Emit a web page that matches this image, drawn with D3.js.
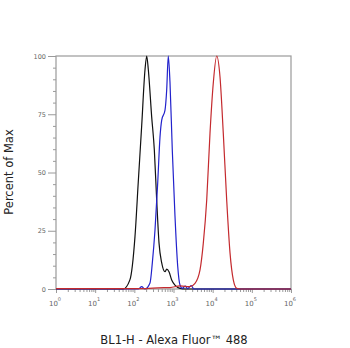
<!DOCTYPE html>
<html><head><meta charset="utf-8">
<script src="https://cdn.jsdelivr.net/npm/d3@7"></script>
<style>body{margin:0;background:#fff}svg{display:block}</style>
</head><body>
<script>
// Data (fluorescence intensity, percent of max)
const blackX = [1, 52, 77, 104, 126, 154, 187, 207, 228, 277, 324, 372, 427, 500, 607, 670, 767, 899, 1091, 1466, 2000, 1e6];
const blackY = [0, 0, 3.9, 22.6, 45.9, 70.0, 94.0, 100, 94.0, 74.0, 59.7, 38.2, 19.7, 11.2, 7.4, 8.5, 7.4, 3.9, 1.7, 0.3, 0, 0];
const blueX = [1, 126, 154, 186, 251, 288, 337, 395, 452, 500, 607, 670, 736, 813, 931, 1091, 1279, 1466, 1660, 1995, 2290, 2818, 3311, 1e6];
const blueY = [0, 0, 1.0, 0, 2.6, 11.2, 25.3, 45.5, 65.2, 72.5, 76.8, 85.4, 100, 88.8, 59.7, 31.3, 9.9, 1.7, 0.3, 1.2, 0.2, 1.5, 0, 0];
const redX = [1, 200, 398, 815, 1466, 2636, 3540, 4753, 5768, 7047, 8551, 10375, 12677, 15382, 18664, 22803, 27733, 33651, 41020, 50119, 1e6];
const redY = [0.2, 0.2, 0.5, 0.6, 1.3, 1.0, 2.4, 8.2, 19.7, 38.2, 66.9, 88.4, 100, 91.1, 66.9, 38.2, 15.5, 3.9, 0.3, 0, 0];
const yTicks = [0, 25, 50, 75, 100];
const xExponents = [0, 1, 2, 3, 4, 5, 6];
const xTitle = "BL1-H - Alexa Fluor™ 488";
const yTitle = "Percent of Max";

const W = 350, H = 348;
const L = 56, R = 291, T = 56, B = 289;
const svg = d3.select("body").append("svg").attr("width", W).attr("height", H);
const x = d3.scaleLog().domain([1, 1e6]).range([L, R]);
const y = d3.scaleLinear().domain([0, 100]).range([B, T]);
const axisCol = "#9a9a9a";
const txtCol = "#666";

// frame
svg.append("rect").attr("x", L).attr("y", T).attr("width", R - L).attr("height", B - T)
  .attr("fill", "none").attr("stroke", axisCol).attr("stroke-width", 1.2);

// y axis
const yAx = svg.append("g").attr("transform", `translate(${L},0)`)
  .call(d3.axisLeft(y).tickValues(yTicks).tickSize(8).tickPadding(2).tickFormat(d3.format("d")));
yAx.select(".domain").remove();
yAx.selectAll("line").attr("stroke", axisCol);
yAx.selectAll("text").attr("fill", txtCol).style("font-family", "DejaVu Sans").style("font-size", "6.5px");
const yMinor = d3.range(0, 101, 5).filter(v => v % 25 !== 0);
const yM = svg.append("g").attr("transform", `translate(${L},0)`)
  .call(d3.axisLeft(y).tickValues(yMinor).tickSize(3).tickFormat(""));
yM.select(".domain").remove();
yM.selectAll("line").attr("stroke", axisCol);

// x axis
const majors = xExponents.map(e => Math.pow(10, e));
const minors = [];
xExponents.slice(0, -1).forEach(e => { for (let k = 2; k <= 9; k++) minors.push(k * Math.pow(10, e)); });
const xM = svg.append("g").attr("transform", `translate(0,${B})`)
  .call(d3.axisBottom(x).tickValues(minors).tickSize(3).tickFormat(""));
xM.select(".domain").remove();
xM.selectAll("line").attr("stroke", axisCol);
const xA = svg.append("g").attr("transform", `translate(0,${B})`)
  .call(d3.axisBottom(x).tickValues(majors).tickSize(4).tickFormat(""));
xA.select(".domain").remove();
xA.selectAll("line").attr("stroke", axisCol);
const xl = svg.append("g");
xExponents.forEach(e => {
  const t = xl.append("text").attr("x", x(Math.pow(10, e)) - 1).attr("y", B + 17)
    .attr("text-anchor", "middle").attr("fill", txtCol)
    .style("font-family", "DejaVu Sans").style("font-size", "7px");
  t.append("tspan").text("10");
  t.append("tspan").attr("dy", -5).style("font-size", "5px").text(e);
});

// curves
const line = d3.line().x(d => x(d[0])).y(d => y(d[1])).curve(d3.curveMonotoneX);
const series = [
  {xs: blackX, ys: blackY, c: "#111111"},
  {xs: blueX, ys: blueY, c: "#2222cc"},
  {xs: redX, ys: redY, c: "#c42a2e"}
];
series.forEach(s => {
  svg.append("path").datum(s.xs.map((v, i) => [v, s.ys[i]]))
    .attr("d", line).attr("fill", "none").attr("stroke", s.c).attr("stroke-width", 1.2);
});

// titles
svg.append("text").attr("x", 174).attr("y", 344).attr("text-anchor", "middle")
  .attr("fill", "#222").style("font-family", "DejaVu Sans").style("font-size", "11.5px").text(xTitle);
svg.append("text").attr("transform", "translate(13,172) rotate(-90)").attr("text-anchor", "middle")
  .attr("fill", "#222").style("font-family", "DejaVu Sans").style("font-size", "11.5px").text(yTitle);
</script>
</body></html>
